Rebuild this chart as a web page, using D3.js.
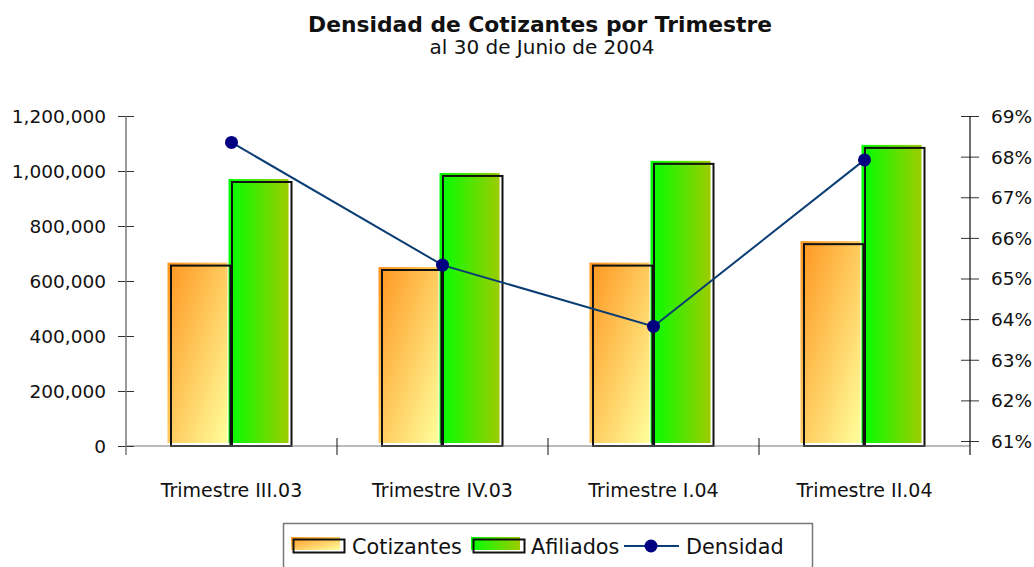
<!DOCTYPE html>
<html>
<head>
<meta charset="utf-8">
<script src="https://cdn.jsdelivr.net/npm/d3@7"></script>
<style>
  body { margin: 0; background: #fff; }
  svg text { font-family: "DejaVu Sans", "Noto Sans", sans-serif; fill: #111; }
</style>
</head>
<body>
<div id="chart"></div>
<script>
var categories = ["Trimestre III.03", "Trimestre IV.03", "Trimestre I.04", "Trimestre II.04"];
var cotizantes = [656000, 640000, 656000, 734000];
var afiliados  = [960000, 982000, 1026000, 1084000];
var densidad   = [68.35, 65.33, 63.82, 67.92];
var leftTicks  = [0, 200000, 400000, 600000, 800000, 1000000, 1200000];
var rightTicks = [61, 62, 63, 64, 65, 66, 67, 68, 69];

var width = 1034, height = 567;
var plot = {left: 126, right: 970, top: 116, bottom: 446};

var svg = d3.select("#chart").append("svg")
    .attr("width", width)
    .attr("height", height);

var defs = svg.append("defs");
var gOrange = defs.append("linearGradient").attr("id", "gradCot")
    .attr("x1", "0").attr("y1", "0").attr("x2", "1").attr("y2", "1");
gOrange.append("stop").attr("offset", "0%").attr("stop-color", "#ff951f");
gOrange.append("stop").attr("offset", "100%").attr("stop-color", "#ffff9c");

var gGreen = defs.append("linearGradient").attr("id", "gradAfi")
    .attr("x1", "0").attr("y1", "0").attr("x2", "1").attr("y2", "0");
gGreen.append("stop").attr("offset", "0%").attr("stop-color", "#00ff00");
gGreen.append("stop").attr("offset", "100%").attr("stop-color", "#9dcc00");

// scales
var x0 = d3.scaleBand().domain(categories).range([plot.left, plot.right]);
var pairW = 122;
var x1 = d3.scaleBand().domain(["cot", "afi"]).range([0, pairW]);
var pairOff = (x0.bandwidth() - pairW) / 2;
var yL = d3.scaleLinear().domain([0, 1200000]).range([plot.bottom, plot.top]);
var yR = d3.scaleLinear().domain([61, 69]).range([441, plot.top]);

// title
svg.append("text")
    .attr("x", 540).attr("y", 32)
    .attr("text-anchor", "middle")
    .style("font-size", "21.8px").style("font-weight", "bold")
    .text("Densidad de Cotizantes por Trimestre");
svg.append("text")
    .attr("x", 542).attr("y", 54)
    .attr("text-anchor", "middle")
    .style("font-size", "20px")
    .text("al 30 de Junio de 2004");

// bars
var series = [
    {key: "cot", values: cotizantes, fill: "url(#gradCot)"},
    {key: "afi", values: afiliados, fill: "url(#gradAfi)"}
];
series.forEach(function(s) {
    svg.append("g").selectAll("rect")
        .data(s.values)
        .enter().append("rect")
        .attr("x", function(d, i) { return x0(categories[i]) + pairOff + x1(s.key) - 3; })
        .attr("y", function(d) { return yL(d) - 3; })
        .attr("width", x1.bandwidth() - 1)
        .attr("height", function(d) { return plot.bottom - yL(d); })
        .style("fill", s.fill);
});
series.forEach(function(s) {
    svg.append("g").selectAll("rect")
        .data(s.values)
        .enter().append("rect")
        .attr("x", function(d, i) { return x0(categories[i]) + pairOff + x1(s.key) + 0.5; })
        .attr("y", function(d) { return yL(d); })
        .attr("width", x1.bandwidth() - 1.5)
        .attr("height", function(d) { return plot.bottom - yL(d); })
        .style("fill", "none")
        .style("stroke", "#111")
        .style("stroke-width", 2);
});

// x axis
svg.append("line")
    .attr("x1", plot.left).attr("x2", plot.right)
    .attr("y1", plot.bottom).attr("y2", plot.bottom)
    .style("stroke", "#777").style("stroke-width", 1.2);
svg.append("g").selectAll("line")
    .data(categories.slice(1))
    .enter().append("line")
    .attr("x1", function(d) { return x0(d); }).attr("x2", function(d) { return x0(d); })
    .attr("y1", 438).attr("y2", 455)
    .style("stroke", "#111");
svg.append("g").selectAll("text")
    .data(categories)
    .enter().append("text")
    .attr("x", function(d) { return x0(d) + x0.bandwidth() / 2; })
    .attr("y", 497)
    .attr("text-anchor", "middle")
    .style("font-size", "19px")
    .text(function(d) { return d; });

// left axis
var leftAxis = svg.append("g")
    .attr("transform", "translate(" + plot.left + ",0)")
    .call(d3.axisLeft(yL).tickValues(leftTicks).tickSize(0).tickPadding(20)
        .tickFormat(d3.format(",")));
leftAxis.select(".domain").remove();
leftAxis.selectAll("text").style("font-size", "18.5px").attr("dy", "0.35em");
leftAxis.append("line").attr("y1", plot.top).attr("y2", 455)
    .style("stroke", "#777").style("stroke-width", 1.5);
leftAxis.selectAll(".tick").append("line")
    .attr("x1", -8).attr("x2", 8)
    .style("stroke", "#333");

// right axis
var rightAxis = svg.append("g")
    .attr("transform", "translate(" + plot.right + ",0)")
    .call(d3.axisRight(yR).tickValues(rightTicks).tickSize(0).tickPadding(21)
        .tickFormat(function(d) { return d + "%"; }));
rightAxis.select(".domain").remove();
rightAxis.selectAll("text").style("font-size", "18.5px").attr("dy", "0.35em");
rightAxis.append("line").attr("y1", plot.top).attr("y2", 455)
    .style("stroke", "#111").style("stroke-width", 1.2);
rightAxis.selectAll(".tick").append("line")
    .attr("x1", -9).attr("x2", 9)
    .style("stroke", "#333");

// density line
var line = d3.line()
    .x(function(d, i) { return x0(categories[i]) + x0.bandwidth() / 2; })
    .y(function(d) { return yR(d); });
svg.append("path")
    .datum(densidad)
    .attr("d", line)
    .style("fill", "none")
    .style("stroke", "#0a3d73")
    .style("stroke-width", 2);
svg.append("g").selectAll("circle")
    .data(densidad)
    .enter().append("circle")
    .attr("cx", function(d, i) { return x0(categories[i]) + x0.bandwidth() / 2; })
    .attr("cy", function(d) { return yR(d); })
    .attr("r", 6.5)
    .style("fill", "#000080");

// legend
var legend = svg.append("g");
legend.append("rect")
    .attr("x", 283.5).attr("y", 523.5)
    .attr("width", 529).attr("height", 50)
    .style("fill", "#fff").style("stroke", "#777").style("stroke-width", 1.5);

var legItems = [
    {name: "Cotizantes", fill: "url(#gradCot)", x: 291, tx: 352},
    {name: "Afiliados", fill: "url(#gradAfi)", x: 471, tx: 531}
];
legItems.forEach(function(it) {
    legend.append("rect")
        .attr("x", it.x).attr("y", 537).attr("width", 49).attr("height", 13)
        .style("fill", it.fill);
    legend.append("rect")
        .attr("x", it.x + 2.5).attr("y", 539.5).attr("width", 51).attr("height", 13)
        .style("fill", "none").style("stroke", "#111").style("stroke-width", 2);
    legend.append("text")
        .attr("x", it.tx).attr("y", 554)
        .style("font-size", "20.8px")
        .text(it.name);
});
legend.append("line")
    .attr("x1", 624).attr("x2", 679).attr("y1", 546).attr("y2", 546)
    .style("stroke", "#0a3d73").style("stroke-width", 2);
legend.append("circle")
    .attr("cx", 651).attr("cy", 546).attr("r", 6.5)
    .style("fill", "#000080");
legend.append("text")
    .attr("x", 686).attr("y", 554)
    .style("font-size", "20.8px")
    .text("Densidad");
</script>
</body>
</html>
